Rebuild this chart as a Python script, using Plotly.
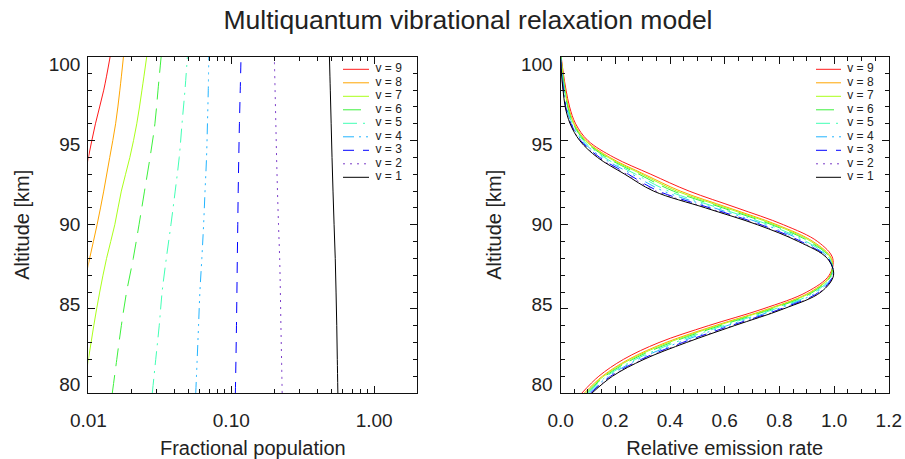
import math
import plotly.graph_objects as go

# ---------------- data ----------------
levels = [9, 8, 7, 6, 5, 4, 3, 2, 1]
level_labels = ["v = 9", "v = 8", "v = 7", "v = 6", "v = 5", "v = 4", "v = 3", "v = 2", "v = 1"]
level_colors = ["#ff1a1a", "#ffa500", "#aaff1a", "#3cf03c", "#40ffb4", "#22b4ff", "#0000ff", "#7b3cc8", "#000000"]
level_dashes = ["solid", "solid", "solid", "18px,9px", "14px,6px,2px,6px",
                "11px,5px,2px,5px,2px,5px,2px,5px", "11px,9px", "2px,5px", "solid"]

# Left panel: fractional population vs altitude
altitude_pop = [80, 82, 84, 86, 88, 90, 92, 94, 96, 98, 100]
pop_v9 = [0.0052, 0.0057, 0.0062, 0.0068, 0.0075, 0.0082, 0.0090, 0.0100, 0.0112, 0.0128, 0.0142]
pop_v8 = [0.0068, 0.0075, 0.0082, 0.0091, 0.0102, 0.0115, 0.0128, 0.0141, 0.0155, 0.0166, 0.0176]
pop_v7 = [0.0092, 0.0100, 0.0109, 0.0120, 0.0134, 0.0153, 0.0170, 0.0195, 0.0218, 0.0237, 0.0256]
pop_v6 = [0.0147, 0.0158, 0.0170, 0.0185, 0.0206, 0.0226, 0.0247, 0.0270, 0.0292, 0.0307, 0.0323]
pop_v5 = [0.0280, 0.0296, 0.0313, 0.0328, 0.0351, 0.0378, 0.0405, 0.0432, 0.0452, 0.0474, 0.0493]
pop_v4 = [0.0564, 0.0577, 0.0590, 0.0603, 0.0622, 0.0640, 0.0655, 0.0671, 0.0681, 0.0690, 0.0696]
pop_v3 = [0.1068, 0.1078, 0.1087, 0.1095, 0.1102, 0.1110, 0.1118, 0.1128, 0.1140, 0.1155, 0.1170]
pop_v2 = [0.2270, 0.2248, 0.2225, 0.2205, 0.2180, 0.2140, 0.2105, 0.2075, 0.2050, 0.2025, 0.2000]
pop_v1 = [0.557, 0.552, 0.547, 0.541, 0.534, 0.524, 0.515, 0.507, 0.500, 0.493, 0.486]

# Right panel: relative emission rate vs altitude
altitude_em = [80, 81, 82, 83, 84, 85, 86, 87, 88, 89, 90, 91, 92, 93, 94, 95, 96, 97, 98, 99, 100]
em_v9 = [0.078, 0.140, 0.230, 0.360, 0.540, 0.740, 0.900, 0.982, 0.995, 0.940, 0.815, 0.645, 0.470, 0.330, 0.195, 0.100, 0.055, 0.033, 0.020, 0.010, 0.0020]
em_v8 = [0.087, 0.153, 0.249, 0.385, 0.564, 0.759, 0.913, 0.986, 0.990, 0.923, 0.791, 0.616, 0.438, 0.306, 0.180, 0.093, 0.050, 0.029, 0.017, 0.008, 0.0015]
em_v7 = [0.091, 0.158, 0.256, 0.395, 0.573, 0.766, 0.918, 0.988, 0.988, 0.916, 0.782, 0.605, 0.425, 0.297, 0.174, 0.090, 0.048, 0.027, 0.016, 0.008, 0.0013]
em_v6 = [0.095, 0.163, 0.264, 0.405, 0.583, 0.774, 0.923, 0.989, 0.986, 0.909, 0.772, 0.593, 0.412, 0.287, 0.168, 0.087, 0.046, 0.026, 0.015, 0.007, 0.0011]
em_v5 = [0.099, 0.169, 0.274, 0.418, 0.595, 0.784, 0.930, 0.991, 0.983, 0.899, 0.760, 0.578, 0.395, 0.275, 0.160, 0.083, 0.043, 0.024, 0.014, 0.006, 0.0008]
em_v4 = [0.105, 0.176, 0.284, 0.432, 0.608, 0.794, 0.937, 0.994, 0.981, 0.890, 0.747, 0.562, 0.376, 0.262, 0.152, 0.078, 0.041, 0.021, 0.012, 0.005, 0.0006]
em_v3 = [0.110, 0.183, 0.295, 0.446, 0.622, 0.805, 0.945, 0.996, 0.978, 0.880, 0.733, 0.546, 0.358, 0.248, 0.143, 0.074, 0.038, 0.019, 0.011, 0.004, 0.0003]
em_v2 = [0.112, 0.187, 0.300, 0.453, 0.628, 0.810, 0.948, 0.997, 0.976, 0.875, 0.727, 0.538, 0.349, 0.242, 0.139, 0.072, 0.036, 0.018, 0.010, 0.0035, 0.0001]
em_v1 = [0.115, 0.190, 0.305, 0.460, 0.635, 0.815, 0.952, 0.998, 0.975, 0.870, 0.720, 0.530, 0.340, 0.235, 0.135, 0.070, 0.035, 0.017, 0.009, 0.003, 0.0]

altitude_ticks = [80, 85, 90, 95, 100]
pop_ticks = [0.01, 0.1, 1.0]
pop_tick_text = ["0.01", "0.10", "1.00"]
pop_minor = [0.02, 0.03, 0.04, 0.05, 0.06, 0.07, 0.08, 0.09,
             0.2, 0.3, 0.4, 0.5, 0.6, 0.7, 0.8, 0.9, 2.0]

pop_series = [pop_v9, pop_v8, pop_v7, pop_v6, pop_v5, pop_v4, pop_v3, pop_v2, pop_v1]
em_series = [em_v9, em_v8, em_v7, em_v6, em_v5, em_v4, em_v3, em_v2, em_v1]

# ---------------- figure ----------------
TXT = "#222222"
AX = "#111111"
FONT = "Liberation Sans, Arial, Helvetica, sans-serif"
W, H = 905, 459


def fx(px):
    return px / W


def fy(py):
    return 1 - py / H


fig = go.Figure()
for i, v in enumerate(levels):
    ln = dict(color=level_colors[i], dash=level_dashes[i], width=1, shape="spline")
    fig.add_trace(go.Scatter(x=pop_series[i], y=altitude_pop, mode="lines", line=ln,
                             name=level_labels[i], xaxis="x", yaxis="y", showlegend=False))
    fig.add_trace(go.Scatter(x=em_series[i], y=altitude_em, mode="lines", line=ln,
                             name=level_labels[i], xaxis="x2", yaxis="y2", showlegend=False))

# empty traces so that the altitude label axes get drawn
fig.add_trace(go.Scatter(x=[], y=[], xaxis="x", yaxis="y3", showlegend=False, hoverinfo="skip"))
fig.add_trace(go.Scatter(x=[], y=[], xaxis="x2", yaxis="y4", showlegend=False, hoverinfo="skip"))

# in-plot legends (one per panel)
for xa, ya in [("x5", "y5"), ("x6", "y6")]:
    for i, v in enumerate(levels):
        fig.add_trace(go.Scatter(x=[0, 1], y=[v, v], mode="lines",
                                 line=dict(color=level_colors[i], dash=level_dashes[i], width=1),
                                 xaxis=xa, yaxis=ya, showlegend=False, hoverinfo="skip"))
    fig.add_trace(go.Scatter(x=[1.25] * len(levels), y=levels, mode="text", text=level_labels,
                             textposition="middle right", textfont=dict(size=12, color=TXT),
                             xaxis=xa, yaxis=ya, showlegend=False, cliponaxis=False, hoverinfo="skip"))

left_dom = [fx(88.4), fx(417.2)]
right_dom = [fx(560.6), fx(888.8)]
y_dom = [fy(393), fy(56.5)]
LEG_TOP, LEG_STEP = 69.3, 13.5
leg_y_dom = [fy(LEG_TOP + 8.5 * LEG_STEP), fy(LEG_TOP - 0.5 * LEG_STEP)]

axis_common = dict(showline=True, linecolor=AX, linewidth=1, mirror="ticks", ticks="inside",
                   ticklen=7, tickwidth=1, tickcolor=AX, showgrid=False, zeroline=False,
                   automargin=False, tickfont=dict(size=19, color=TXT))
minor_common = dict(ticks="inside", ticklen=4, tickwidth=1, tickcolor=AX, showgrid=False)
label_axis = dict(showline=False, ticks="", showgrid=False, zeroline=False, automargin=False,
                  range=[79.48, 100.52], tickvals=altitude_ticks,
                  tickfont=dict(size=19, color=TXT), ticklabelstandoff=7,
                  title=dict(text="Altitude [km]", font=dict(size=20, color=TXT), standoff=13))
hidden_axis = dict(visible=False, showgrid=False, zeroline=False, automargin=False)

fig.update_layout(
    width=W, height=H, margin=dict(l=0, r=0, t=0, b=0, autoexpand=False),
    paper_bgcolor="white", plot_bgcolor="rgba(0,0,0,0)",
    font=dict(family=FONT, color=TXT),
    title=dict(text="Multiquantum vibrational relaxation model", x=fx(468), y=fy(20),
               xanchor="center", yanchor="middle", font=dict(size=26.5, color=TXT)),
    xaxis=dict(axis_common, domain=left_dom, anchor="y", type="log",
               range=[-2, math.log10(2)], tickvals=pop_ticks, ticktext=pop_tick_text,
               minor=dict(minor_common, tickvals=pop_minor), ticklabelstandoff=10,
               title=dict(text="Fractional population", font=dict(size=20, color=TXT), standoff=14)),
    yaxis=dict(axis_common, domain=y_dom, anchor="x", range=[80, 100], tickvals=altitude_ticks,
               showticklabels=False, minor=dict(minor_common, dtick=1)),
    yaxis3=dict(label_axis, overlaying="y", anchor="x", side="left"),
    xaxis2=dict(axis_common, domain=right_dom, anchor="y2", range=[0, 1.2], dtick=0.2,
                tick0=0, tickformat=".1f", minor=dict(minor_common, dtick=0.05),
                ticklabelstandoff=10,
                title=dict(text="Relative emission rate", font=dict(size=20, color=TXT), standoff=14)),
    yaxis2=dict(axis_common, domain=y_dom, anchor="x2", range=[80, 100], tickvals=altitude_ticks,
                showticklabels=False, minor=dict(minor_common, dtick=1)),
    yaxis4=dict(label_axis, overlaying="y2", anchor="x2", side="left"),
    xaxis5=dict(hidden_axis, domain=[fx(343), fx(343 + 26 * 2)], range=[0, 2], anchor="y5"),
    yaxis5=dict(hidden_axis, domain=leg_y_dom, range=[0.5, 9.5], anchor="x5"),
    xaxis6=dict(hidden_axis, domain=[fx(816), fx(816 + 25 * 2)], range=[0, 2], anchor="y6"),
    yaxis6=dict(hidden_axis, domain=leg_y_dom, range=[0.5, 9.5], anchor="x6"),
)

fig.write_html("out.html", config={"displayModeBar": False},
               post_script="document.body.style.margin='0';")
